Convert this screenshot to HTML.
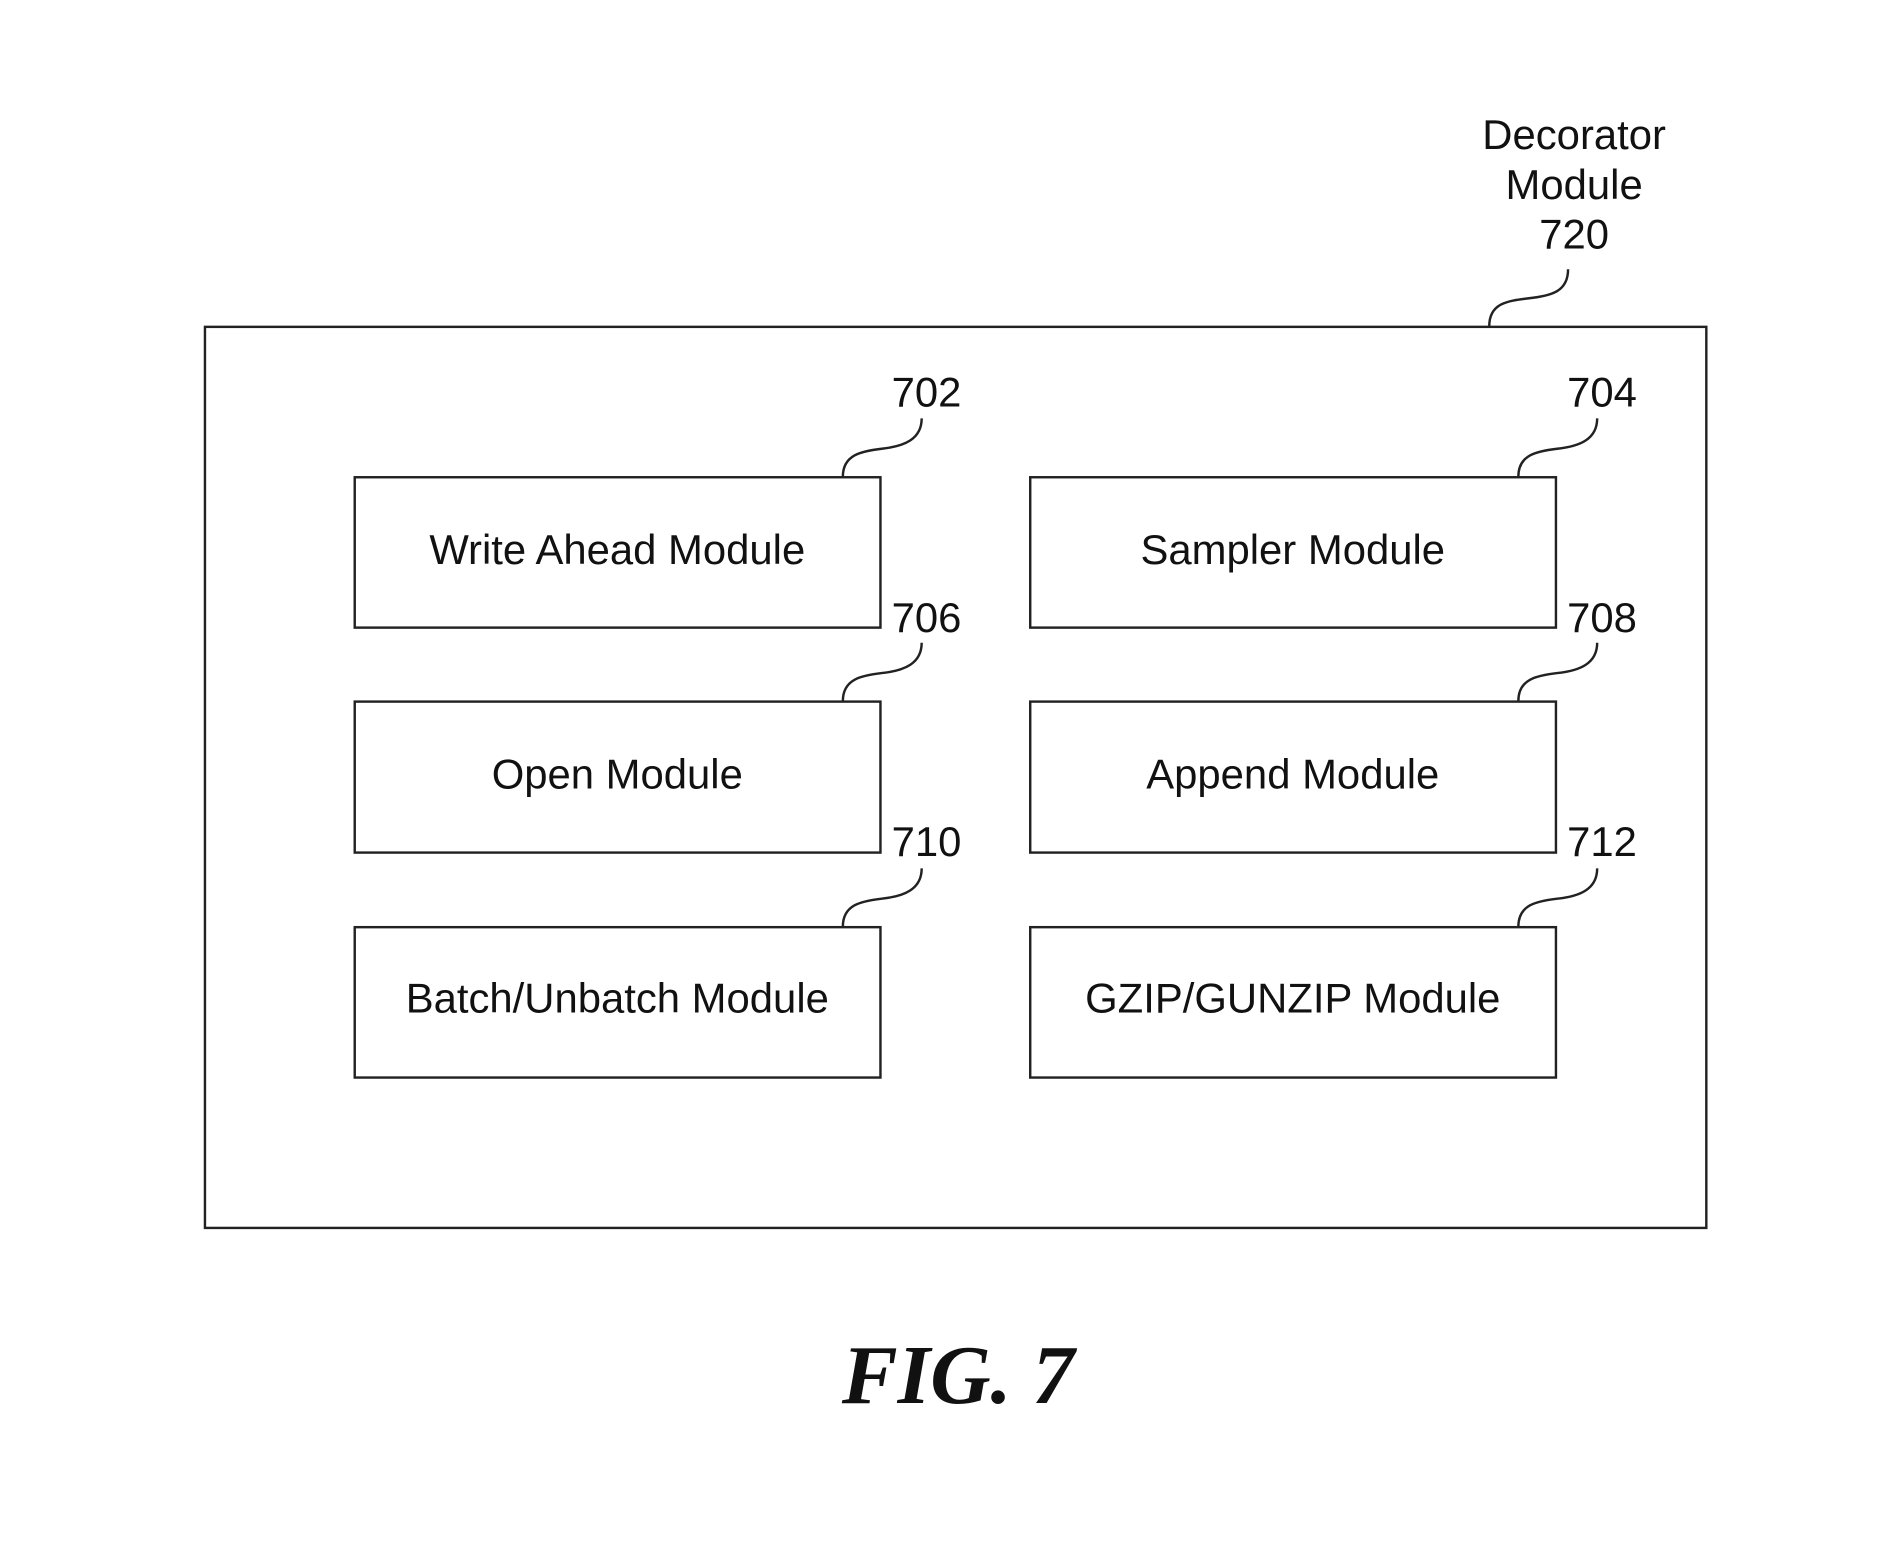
<!DOCTYPE html>
<html><head><meta charset="utf-8"><style>
html,body{margin:0;padding:0;background:#fff;}
svg{display:block;}
text{font-family:"Liberation Sans",Arial,sans-serif;fill:#111;}
</style></head><body>
<svg width="1900" height="1552" viewBox="0 0 1566.7 1279.7" xmlns="http://www.w3.org/2000/svg">
<g fill="none" stroke="#222" stroke-width="2">
<rect x="169" y="269.5" width="1238" height="743"/>
<rect x="292.5" y="393.5" width="433.5" height="124"/>
<rect x="849.5" y="393.5" width="433.5" height="124"/>
<rect x="292.5" y="578.5" width="433.5" height="124.5"/>
<rect x="849.5" y="578.5" width="433.5" height="124.5"/>
<rect x="292.5" y="764.5" width="433.5" height="124"/>
<rect x="849.5" y="764.5" width="433.5" height="124"/>
<path d="M1228,269 C1228,250 1243,248 1260,246 C1280,244 1293,240 1293,222"/>
<path d="M695,393 C695,375 710,372 727,370 C746,368 760,362 760,345"/>
<path d="M1252,393 C1252,375 1267,372 1284,370 C1303,368 1317,362 1317,345"/>
<path d="M695,578 C695,560 710,557 727,555 C746,553 760,547 760,530"/>
<path d="M1252,578 C1252,560 1267,557 1284,555 C1303,553 1317,547 1317,530"/>
<path d="M695,764 C695,746 710,743 727,741 C746,739 760,733 760,716"/>
<path d="M1252,764 C1252,746 1267,743 1284,741 C1303,739 1317,733 1317,716"/>
</g>
<g font-size="34.5" text-anchor="middle">
<text x="509" y="465">Write Ahead Module</text>
<text x="1066" y="465">Sampler Module</text>
<text x="509" y="650">Open Module</text>
<text x="1066" y="650">Append Module</text>
<text x="509" y="835">Batch/Unbatch Module</text>
<text x="1066" y="835">GZIP/GUNZIP Module</text>
<text x="764" y="335">702</text>
<text x="1321" y="335">704</text>
<text x="764" y="521">706</text>
<text x="1321" y="521">708</text>
<text x="764" y="706">710</text>
<text x="1321" y="706">712</text>
<text x="1298" y="123">Decorator</text>
<text x="1298" y="164">Module</text>
<text x="1298" y="205">720</text>
</g>
<text x="790" y="1157" font-size="69" text-anchor="middle" font-weight="bold" font-style="italic" style="font-family:'Liberation Serif','Times New Roman',serif">FIG. 7</text>
</svg>
</body></html>
